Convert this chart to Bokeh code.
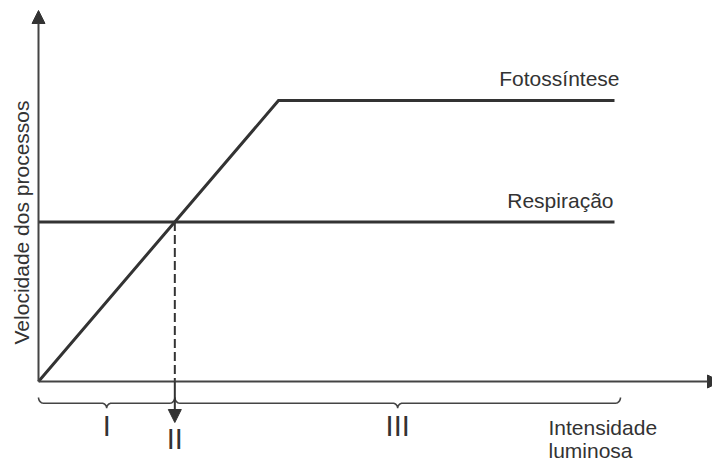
import numpy as np
from bokeh.plotting import figure
from bokeh.models import Range1d, Arrow, NormalHead, Label
from bokeh.embed import file_html
from bokeh.resources import INLINE

# ---- data (conceptual units) ----
light = [0, 10, 24]            # light intensity: origin, saturation, end
photo = [0, 10, 10]            # photosynthesis rate
resp_light = [0, 24]
resp = [5.68, 5.68]            # respiration rate (constant)
region_end = 24.25
region_labels = ["I", "II", "III"]
y_label = "Velocidade dos processos"
x_label = ["Intensidade", "luminosa"]
series_labels = ["Fotossíntese", "Respiração"]

# compensation point: where photosynthesis line meets respiration
comp = resp[0] * light[1] / photo[1]

# ---- layout ----
W, H = 712, 463
PX_X, PX_Y = 24.0, 28.1        # pixels per unit
OX, OY = 38, 381               # origin in figure pixels (from left, from top)

p = figure(width=W, height=H, output_backend="svg", toolbar_location=None,
           x_range=Range1d(-OX / PX_X, (W - OX) / PX_X),
           y_range=Range1d(-(H - OY) / PX_Y, OY / PX_Y),
           x_axis_type=None, y_axis_type=None, min_border=0)
p.grid.visible = False
p.outline_line_color = None
p.background_fill_color = "white"

DARK = "#333333"
AX = "#444444"
FONT = "Liberation Sans"

# axes with arrow heads
p.add_layout(Arrow(x_start=0, y_start=0, x_end=0, y_end=(OY - 10) / PX_Y,
                   line_color=AX, line_width=2,
                   end=NormalHead(size=13, fill_color=DARK, line_color=DARK, line_width=1)))
p.add_layout(Arrow(x_start=0, y_start=0, x_end=(720 - OX) / PX_X, y_end=0,
                   line_color=AX, line_width=2,
                   end=NormalHead(size=13, fill_color=DARK, line_color=DARK, line_width=1)))

# curves
p.line(light, photo, line_color=DARK, line_width=3, line_join="miter")
p.line(resp_light, resp, line_color=DARK, line_width=3)

# compensation point dashed line + arrow
p.line([comp, comp], [resp[0], 0], line_color=DARK, line_width=2, line_dash="9 4")
p.add_layout(Arrow(x_start=comp, y_start=0, x_end=comp, y_end=-41 / PX_Y,
                   line_color=DARK, line_width=2,
                   end=NormalHead(size=13, fill_color=DARK, line_color=DARK, line_width=1)))

# braces
def brace(x0, x1, y, h=5.7, d=5.0, r=5.0, n=8):
    yb = y
    rx, hy, dy = r / PX_X, h / PX_Y, d / PX_Y
    xm = (x0 + x1) / 2
    t = np.linspace(0, np.pi / 2, n)
    xs, ys = [], []
    xs += list(x0 + rx * (1 - np.cos(t))); ys += list(yb + hy - hy * np.sin(t))
    xs += list(xm - rx + rx * np.sin(t)); ys += list(yb - dy * (1 - np.cos(t)))
    xs += list(xm + rx - rx * np.cos(t)); ys += list(yb - dy + dy * np.sin(t))
    xs += list(x1 - rx + rx * np.sin(t)); ys += list(yb + hy * (1 - np.cos(t)))
    return xs, ys

brace_y = -21.7 / PX_Y
for a, b in [(0, comp), (comp, region_end)]:
    bx, by = brace(a, b, brace_y)
    p.line(bx, by, line_color=AX, line_width=1.6)

# region labels (baseline offsets corrected for svg text placement)
NUM_SHIFT = 11.5
num_style = dict(text_font=FONT, text_font_size="29px", text_color=DARK,
                 text_align="center", text_baseline="alphabetic")
p.add_layout(Label(x=comp / 2, y=(-56 + NUM_SHIFT) / PX_Y, text=region_labels[0], **num_style))
p.add_layout(Label(x=comp, y=(-69 + NUM_SHIFT) / PX_Y, text=region_labels[1], **num_style))
p.add_layout(Label(x=(comp + region_end) / 2, y=(-56 + NUM_SHIFT) / PX_Y, text=region_labels[2], **num_style))

TS = 9.0
txt = dict(text_font=FONT, text_font_size="21px", text_color=DARK)
p.add_layout(Label(x=(619 - OX) / PX_X, y=photo[-1] + (13.3 + TS) / PX_Y, text=series_labels[0],
                   text_align="right", text_baseline="alphabetic", **txt))
p.add_layout(Label(x=(613 - OX) / PX_X, y=resp[-1] + (12.4 + TS) / PX_Y, text=series_labels[1],
                   text_align="right", text_baseline="alphabetic", **txt))
p.add_layout(Label(x=(548 - OX) / PX_X, y=(-55 + TS) / PX_Y, text=x_label[0],
                   text_align="left", text_baseline="alphabetic", **txt))
p.add_layout(Label(x=(548 - OX) / PX_X, y=(-78 + TS) / PX_Y, text=x_label[1],
                   text_align="left", text_baseline="alphabetic", **txt))
p.add_layout(Label(x=(20.5 - OX) / PX_X, y=159 / PX_Y, text=y_label, angle=np.pi / 2,
                   text_align="center", text_baseline="middle", **txt))

open("out.html", "w").write(file_html(p, INLINE))
